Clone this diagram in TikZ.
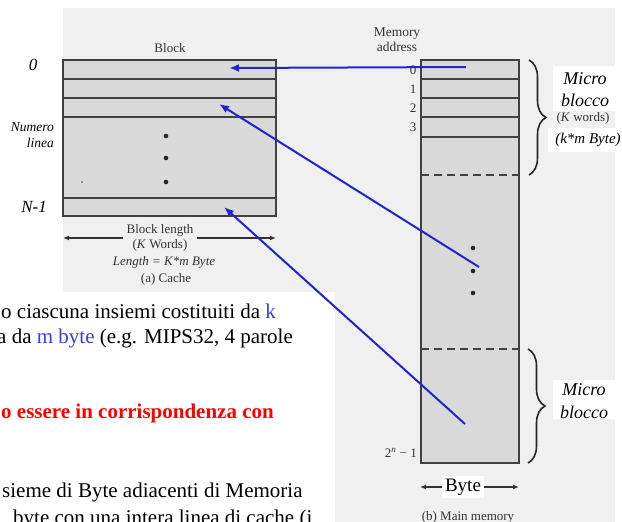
\documentclass[tikz,border=0pt]{standalone}
\usepackage{fontspec}
\setmainfont{Liberation Serif}
\usepackage{xcolor}
\usetikzlibrary{arrows.meta,positioning,decorations.pathreplacing}
\definecolor{linkblue}{RGB}{35,35,205}
\definecolor{txtblue}{RGB}{60,60,225}
\tikzset{
  scan/.style={font=\fontsize{13}{15}\selectfont, text=black!80, inner sep=0pt, align=center},
  lbl/.style={font=\fontsize{17}{19}\selectfont\itshape, inner sep=0pt},
  membox/.style={draw=black!75, line width=1.5pt, fill=black!15},
  rowline/.style={draw=black!75, line width=1.5pt},
  link/.style={draw=linkblue, line width=2pt, -{Latex[length=10pt,width=8pt]}},
  dim/.style={draw=black!80, line width=1.2pt, -{Latex[length=6pt,width=5pt]}},
  bracket/.style={draw=black!85, line width=1.6pt, decorate, decoration={brace, amplitude=17pt}},
  body/.style={font=\fontsize{21}{25}\selectfont, anchor=base west, inner sep=0pt}
}
\begin{document}
\begin{tikzpicture}[x=1pt,y=-1pt]
\useasboundingbox (0,0) rectangle (622,522);
\fill[black!6] (63,8) rectangle (615,522);
\fill[white] (0,292) rectangle (335,522);

% cache
\draw[membox] (63,60) rectangle (276,216);
\foreach \y in {79,98,117,198} \draw[rowline] (63,\y) -- (276,\y);
\foreach \y in {136,158,182} \fill[black!85] (166,\y) circle (2.3);
\fill[black!70] (82,182) circle (0.9);
\node[scan] (blk) at (170,48) {Block};
\node[lbl] (l0) at (33,65) {0};
\node[lbl, font=\fontsize{13.5}{16}\selectfont\itshape, align=right, anchor=east] (nl) at (54,135) {Numero\\linea};
\node[lbl] (ln) at (34,207) {N-1};
\node[scan, inner sep=3pt] (blen) at (160,238) {Block length\\(\textit{K} Words)};
\coordinate (bl) at (63,238);
\coordinate (br) at (276,238);
\draw[dim] (blen) -- (bl);
\draw[dim] (blen) -- (br);
\node[scan, font=\fontsize{13}{15}\selectfont\itshape] (clen) at (164,262) {Length = K*m Byte};
\node[scan] (ccap) at (166,279) {(a) Cache};

% main memory
\draw[membox] (421,60) rectangle (519,463);
\foreach \y in {79,98,117,137} \draw[rowline] (421,\y) -- (519,\y);
\foreach \y in {175,349} \draw[rowline, dashed, dash pattern=on 8pt off 5pt] (421,\y) -- (519,\y);
\foreach \y in {248,271,293} \fill[black!85] (473,\y) circle (2.3);
\node[scan, font=\fontsize{13.5}{15}\selectfont] (madr) at (397,40) {Memory\\address};
\foreach \n/\y in {0/70,1/89,2/108,3/127} \node[scan] (a\n) at (413,\y) {\n};
\node[scan, anchor=east] (alast) at (417,453) {2\textsuperscript{\itshape n} − 1};
\node[fill=white, font=\fontsize{19}{21}\selectfont, inner sep=3pt] (byte) at (463,487) {Byte};
\coordinate (bw) at (420,487);
\coordinate (be) at (519,487);
\draw[dim] (byte) -- (bw);
\draw[dim] (byte) -- (be);
\node[scan] (mcap) at (468,517) {(b) Main memory};

% micro blocchi
\draw[bracket] (529,60) -- (529,175);
\fill[white] (553,66) rectangle (622,111);
\node[lbl, font=\fontsize{18}{20}\selectfont\itshape] (mb1) at (585,79) {Micro};
\node[lbl, font=\fontsize{18}{20}\selectfont\itshape] (mb2) at (585,100) {blocco};
\node[scan] (kw) at (583,118) {(\textit{K} words)};
\fill[white] (548,128) rectangle (622,152);
\node[lbl, font=\fontsize{15}{17}\selectfont\itshape] (kmb) at (588,140) {(k*m Byte)};
\draw[bracket] (528,349) -- (528,463);
\fill[white] (553,380) rectangle (622,419);
\node[lbl, font=\fontsize{18}{20}\selectfont\itshape] (mb3) at (584,390) {Micro};
\node[lbl, font=\fontsize{18}{20}\selectfont\itshape] (mb4) at (584,412) {blocco};

% corrispondenze
\coordinate (m0) at (466,67);
\coordinate (c0) at (229,68);
\coordinate (m1) at (479,267);
\coordinate (c1) at (219,104);
\coordinate (m2) at (465,424);
\coordinate (c2) at (224,207);
\draw[link] (m0) -- (c0);
\draw[link] (m1) -- (c1);
\draw[link] (m2) -- (c2);

% testo
\node[body] (t1) at (1,318) {o ciascuna insiemi costituiti da \textcolor{txtblue}{k}};
\node[body] (t2) at (-3,343) {a da \textcolor{txtblue}{m byte} (e.g. MIPS32, 4 parole};
\node[body, text=red, font=\fontsize{21}{25}\selectfont\bfseries] (t3) at (1,418) {o essere in corrispondenza con};
\node[body] (t4) at (2,497) {sieme di Byte adiacenti di Memoria};
\node[body] (t5) at (13,524) {byte con una intera linea di cache (i};
\end{tikzpicture}
\end{document}
